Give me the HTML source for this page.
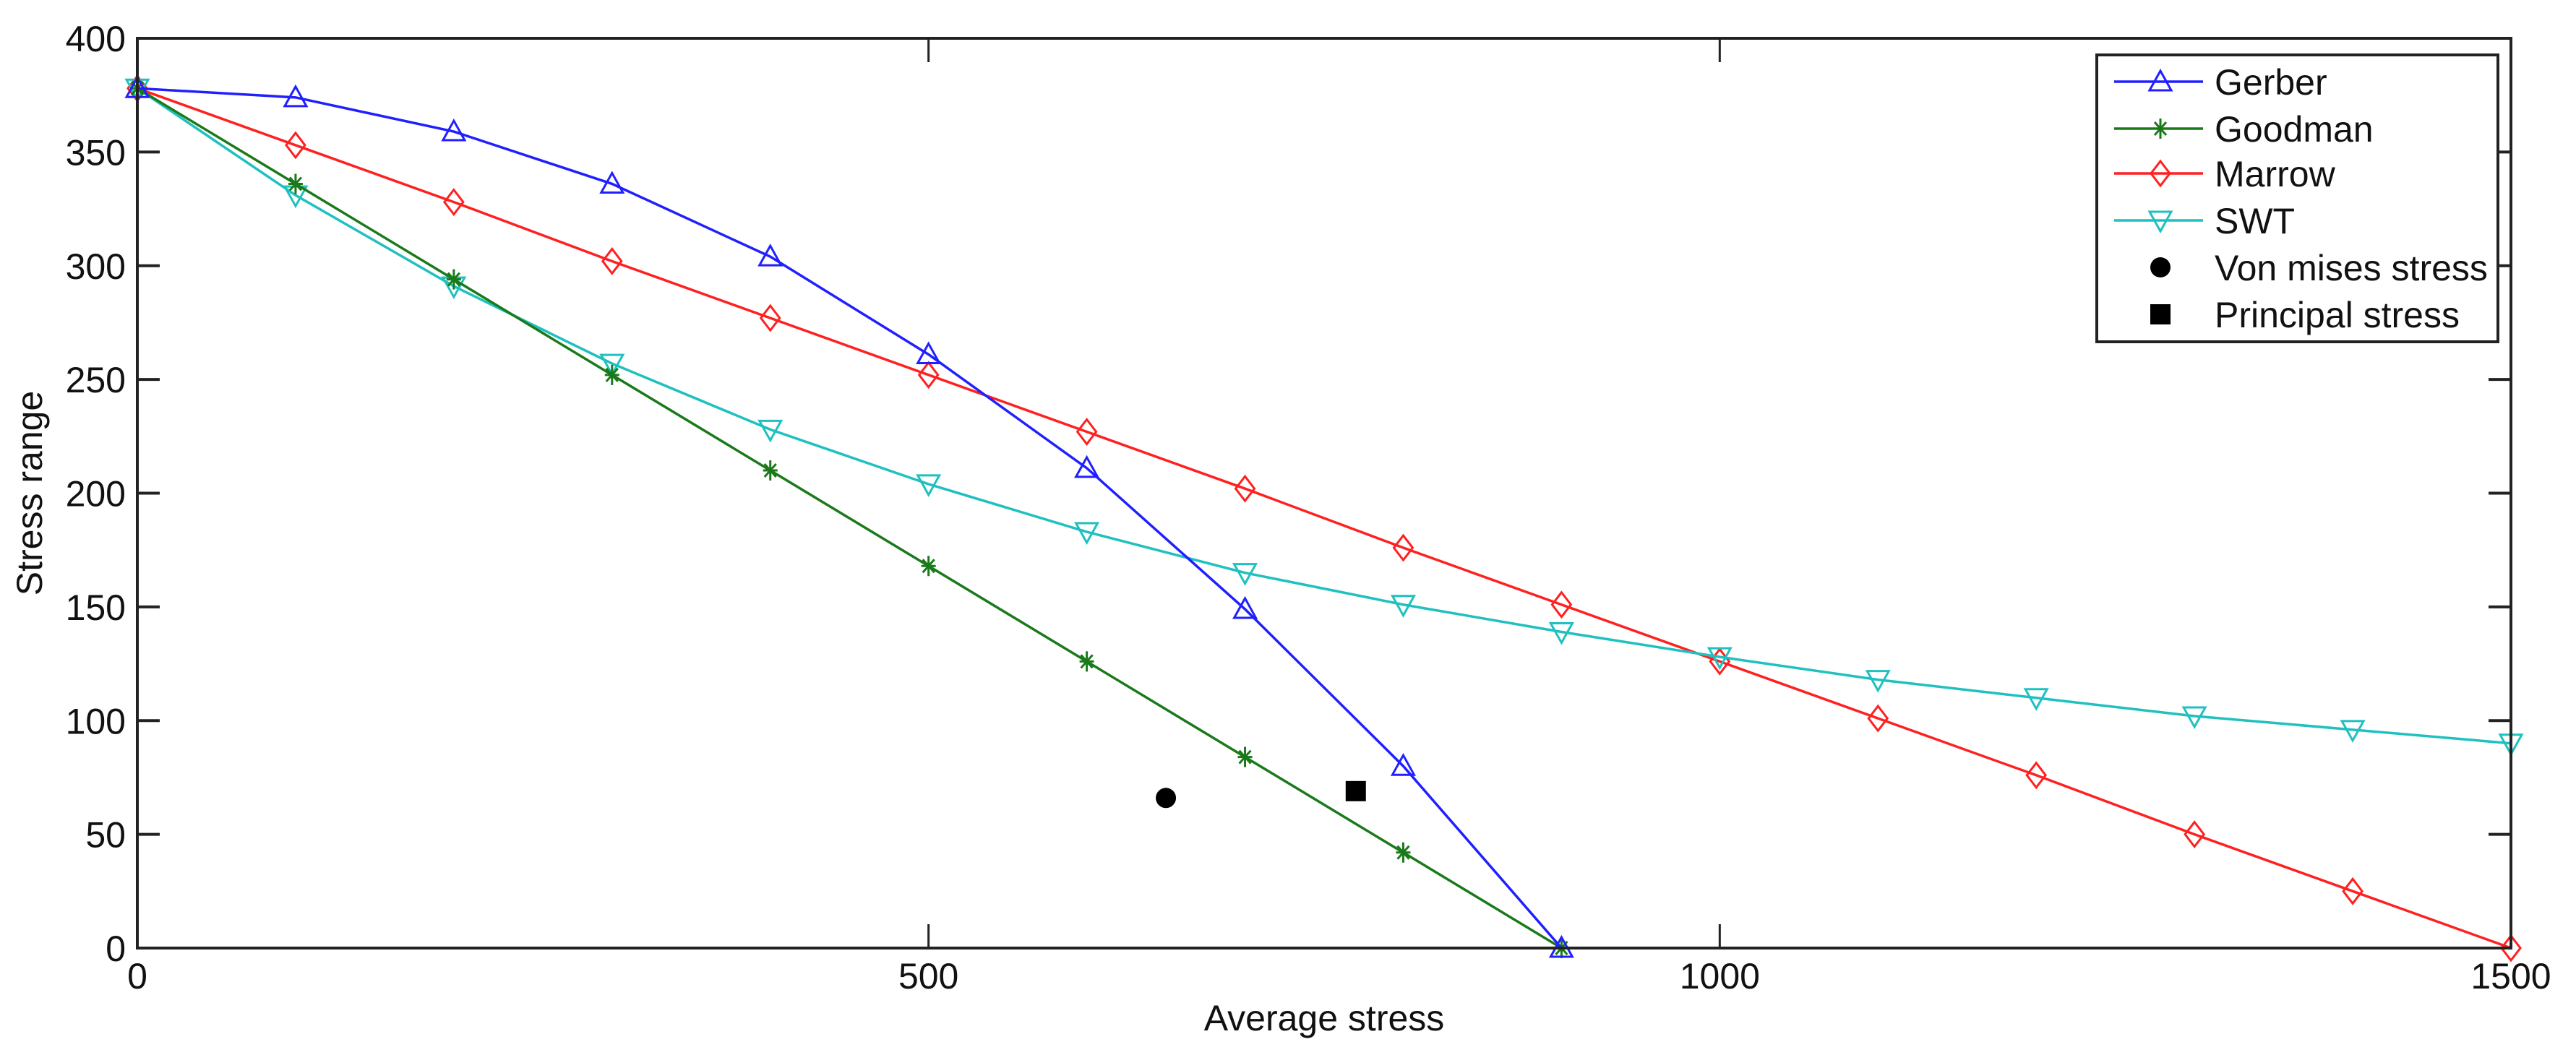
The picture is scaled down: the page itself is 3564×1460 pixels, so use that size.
<!DOCTYPE html>
<html><head><meta charset="utf-8"><style>
html,body{margin:0;padding:0;background:#fff;}
svg{display:block;font-family:"Liberation Sans",Arial,sans-serif;}
</style></head><body>
<svg id="chart" width="3564" height="1460" viewBox="0 0 3564 1460" xmlns="http://www.w3.org/2000/svg">
<g id="grid"></g><g id="series"></g><g id="axes"></g><g id="legend"></g>
</svg>
<script>
const xTicks=[0,500,1000,1500];
const yTicks=[0,50,100,150,200,250,300,350,400];
const gerberX=[0,100,200,300,400,500,600,700,800,900];
const gerberY=[378,374,359,336,304,261,211,149,80,0];
const goodmanX=[0,100,200,300,400,500,600,700,800,900];
const goodmanY=[378,336,294,252,210,168,126,84,42,0];
const marrowX=[0,100,200,300,400,500,600,700,800,900,1000,1100,1200,1300,1400,1500];
const marrowY=[378,353,328,302,277,252,227,202,176,151,126,101,76,50,25,0];
const swtX=[0,100,200,300,400,500,600,700,800,900,1000,1100,1200,1300,1400,1500];
const swtY=[378,331,291,257,228,204,183,165,151,139,128,118,110,102,96,90];
const vonMises=[650,66];
const principal=[770,69];

const NS="http://www.w3.org/2000/svg";
const L=190,R=3474,T=53,B=1312;
const sx=v=>L+(v-0)/(1500-0)*(R-L);
const sy=v=>B-(v-0)/(400-0)*(B-T);
function mk(tag,attrs,parent){const e=document.createElementNS(NS,tag);for(const k in attrs)e.setAttribute(k,attrs[k]);parent.appendChild(e);return e;}
const axes=document.getElementById('axes'),ser=document.getElementById('series'),leg=document.getElementById('legend');

function marker(type,x,y,color,g){
  let e;const s=15;
  if(type==='tri'){e=mk('polygon',{points:`${x},${y-s} ${x-s},${y+s*0.8} ${x+s},${y+s*0.8}`,fill:'none',stroke:color,'stroke-width':3},g);}
  else if(type==='tridown'){e=mk('polygon',{points:`${x},${y+s} ${x-s},${y-s*0.8} ${x+s},${y-s*0.8}`,fill:'none',stroke:color,'stroke-width':3},g);}
  else if(type==='diamond'){e=mk('polygon',{points:`${x},${y-17} ${x+13},${y} ${x},${y+17} ${x-13},${y}`,fill:'none',stroke:color,'stroke-width':3},g);}
  else if(type==='star'){e=mk('path',{d:`M${x-10},${y}h20M${x},${y-14}v28M${x-8},${y-9}l16,18M${x+8},${y-9}l-16,18`,stroke:color,'stroke-width':3},g);}
  else if(type==='circle'){e=mk('circle',{cx:x,cy:y,r:14,fill:'#000'},g);}
  else {e=mk('rect',{x:x-14,y:y-14,width:28,height:28,fill:'#000'},g);}
  return e;
}
function series(xs,ys,color,type,name){
  const g=mk('g',{},ser);
  
  
  const p=mk('polyline',{points:xs.map((x,i)=>sx(x)+','+sy(ys[i])).join(' '),fill:'none',stroke:color,'stroke-width':3.5},g);
  
  
  xs.forEach((x,i)=>{const m=marker(type,sx(x),sy(ys[i]),color,g);
    
    });
}
series(marrowX,marrowY,'#ff2020','diamond','marrow');
series(swtX,swtY,'#20c0c0','tridown','swt');
series(goodmanX,goodmanY,'#1a7a1a','star','goodman');
series(gerberX,gerberY,'#2020ff','tri','gerber');
let vm=marker('circle',sx(vonMises[0]),sy(vonMises[1]),'#000',ser);


let pr=marker('square',sx(principal[0]),sy(principal[1]),'#000',ser);



const box=mk('rect',{x:L,y:T,width:R-L,height:B-T,fill:'none',stroke:'#222','stroke-width':4},axes);


xTicks.forEach(v=>{const x=sx(v);
  mk('path',{d:`M${x},${B}v-33M${x},${T}v33`,stroke:'#222','stroke-width':3},axes);
  const t=mk('text',{x:x,y:B+56,'font-size':50,'text-anchor':'middle',fill:'#111'},axes);t.textContent=v;
  
  });
yTicks.forEach(v=>{const y=sy(v);
  mk('path',{d:`M${L},${y}h31M${R},${y}h-31`,stroke:'#222','stroke-width':4},axes);
  const t=mk('text',{x:L-16,y:y+18,'font-size':50,'text-anchor':'end',fill:'#111'},axes);t.textContent=v;
  
  });
const xt=mk('text',{x:(L+R)/2,y:1426,'font-size':50,'text-anchor':'middle',fill:'#111'},axes);xt.textContent='Average stress';


const yt=mk('text',{x:0,y:0,'font-size':50,'text-anchor':'middle',fill:'#111',transform:`translate(58,${(T+B)/2}) rotate(-90)`},axes);yt.textContent='Stress range';



const lb=mk('rect',{x:2901,y:76,width:555,height:397,fill:'#fff',stroke:'#222','stroke-width':4},leg);


const entries=[['Gerber','#2020ff','tri',true],['Goodman','#1a7a1a','star',true],['Marrow','#ff2020','diamond',true],['SWT','#20c0c0','tridown',true],['Von mises stress','#000','circle',false],['Principal stress','#000','square',false]];
const ly=[113,178,240,305,370,435];
entries.forEach((e,i)=>{const g=mk('g',{},leg);
  
  
  const y=ly[i];
  if(e[3])mk('line',{x1:2925,x2:3048,y1:y,y2:y,stroke:e[1],'stroke-width':3.5},g);
  marker(e[2],2989,y,e[1],g);
  const t=mk('text',{x:3064,y:y+18,'font-size':50,fill:'#111'},g);t.textContent=e[0];});
</script>
</body></html>
